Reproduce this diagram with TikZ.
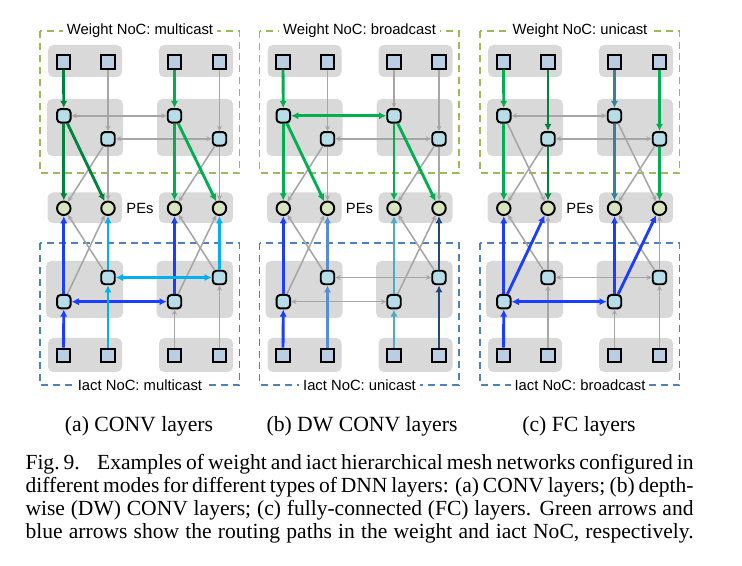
\documentclass[tikz,border=0pt]{standalone}
\usepackage{fontspec}
\setmainfont{Liberation Serif}
\newfontfamily\labelfont{Liberation Sans}
\usetikzlibrary{arrows.meta}

\definecolor{boxgray}{HTML}{D9D9D9}
\definecolor{wiregray}{HTML}{A6A6A6}
\definecolor{glbfill}{HTML}{B9CDE5}
\definecolor{routerfill}{HTML}{B7DEE8}
\definecolor{pefill}{HTML}{D7E4BD}
\definecolor{wnocline}{HTML}{9BBB59}
\definecolor{inocline}{HTML}{4F81BD}
\definecolor{wgreen}{HTML}{00B050}
\definecolor{wdgreen}{HTML}{00843D}
\definecolor{wteal}{HTML}{31849B}
\definecolor{iblue}{HTML}{1A3DFF}
\definecolor{icyan}{HTML}{00B0F0}
\definecolor{icorn}{HTML}{558ED5}
\definecolor{iteal}{HTML}{4BACC6}
\definecolor{inavy}{HTML}{1F497D}

\tikzset{
	glb/.style={draw, line width=0.75pt, fill=glbfill, minimum size=5.1pt, inner sep=0pt},
	router/.style={draw, line width=0.75pt, fill=routerfill, rounded corners=1.4pt, minimum size=5.2pt, inner sep=0pt},
	pe/.style={draw, circle, line width=0.75pt, fill=pefill, minimum size=5.2pt, inner sep=0pt},
	graybox/.style={fill=boxgray, rounded corners=2pt},
	nocbox/.style={draw=#1, line width=0.6pt, dash pattern=on 2.7pt off 1.9pt},
	noclabel/.style={fill=white, inner xsep=1.5pt, inner ysep=0.5pt, font=\labelfont\fontsize{5.7pt}{6pt}\selectfont},
	gwire/.style={draw=wiregray, line width=0.6pt, >={Stealth[length=2.1pt,width=1.9pt]}, ->},
	cwire/.style={draw=#1, line width=1.1pt, >={Latex[length=2.8pt,width=2.8pt]}, ->},
}

\begin{document}
\begin{tikzpicture}[x=0.385pt, y=-0.385pt]
	\useasboundingbox (0,0) rectangle (742,566);
	\foreach \p/\dx/\wmode/\imode in {a/0/multicast/multicast, b/219.5/broadcast/unicast, c/440/unicast/broadcast} {
		\begin{scope}[shift={(\dx,0)}]
			\draw[nocbox=wnocline] (40,31) rectangle (239.5,173);
			\draw[nocbox=inocline] (40,243) rectangle (239.5,385);
			\fill[graybox] (48,45) rectangle (122,77);
			\fill[graybox] (159,45) rectangle (233,77);
			\fill[graybox] (47,99) rectangle (123,156);
			\fill[graybox] (157,99) rectangle (233,156);
			\fill[graybox] (47.5,192.5) rectangle (122,223);
			\fill[graybox] (159,192.5) rectangle (233,223);
			\fill[graybox] (46,261) rectangle (123,318);
			\fill[graybox] (156.5,261) rectangle (233,318);
			\fill[graybox] (48,338) rectangle (122,372);
			\fill[graybox] (159,338) rectangle (233,372);
			\node[noclabel] (\p wtitle) at (140,31) {Weight NoC: \wmode};
			\node[noclabel] (\p ititle) at (140,385) {Iact NoC: \imode};
			\node[noclabel, fill=none] (\p pelabel) at (140,208) {PEs};
			% weight GLB, weight routers, PEs, iact routers, iact GLB
			\node[glb] (\p wg1) at (63.5,62) {};
			\node[glb] (\p wg2) at (108,62) {};
			\node[glb] (\p wg3) at (174.5,62) {};
			\node[glb] (\p wg4) at (219.5,62) {};
			\node[router] (\p wr1) at (63.8,115.8) {};
			\node[router] (\p wr2) at (108,138.8) {};
			\node[router] (\p wr3) at (174.5,115.8) {};
			\node[router] (\p wr4) at (219.5,138.8) {};
			\node[pe] (\p pe1) at (63.8,208.3) {};
			\node[pe] (\p pe2) at (108,208.3) {};
			\node[pe] (\p pe3) at (174.5,208.3) {};
			\node[pe] (\p pe4) at (219.5,208.3) {};
			\node[router] (\p ir1) at (63.8,301.7) {};
			\node[router] (\p ir2) at (108,277.5) {};
			\node[router] (\p ir3) at (174.5,301.7) {};
			\node[router] (\p ir4) at (219.5,277.5) {};
			\node[glb] (\p ig1) at (63.5,355.3) {};
			\node[glb] (\p ig2) at (108,355.3) {};
			\node[glb] (\p ig3) at (174.5,355.3) {};
			\node[glb] (\p ig4) at (219.5,355.3) {};
		\end{scope}
	}

	% (a) weight multicast, iact multicast
	\foreach \s/\t in {wg2/wr2, wg4/wr4, wr2/pe1, wr2/pe2, wr4/pe3, wr4/pe4,
		ig3/ir3, ig4/ir4, ir1/pe2, ir2/pe1, ir3/pe4, ir4/pe3}
		\draw[gwire] (a\s) -- (a\t);
	\draw[gwire, <->] (awr1) -- (awr3);
	\draw[gwire, <->] (awr2) -- (awr4);
	\foreach \s/\t in {wg1/wr1, wr1/pe1, wr1/pe2} \draw[cwire=wdgreen] (a\s) -- (a\t);
	\foreach \s/\t in {wg3/wr3, wr3/pe3, wr3/pe4} \draw[cwire=wgreen] (a\s) -- (a\t);
	\foreach \s/\t in {ig1/ir1, ir1/pe1, ir3/pe3} \draw[cwire=iblue] (a\s) -- (a\t);
	\draw[cwire=iblue, <->] (air1) -- (air3);
	\foreach \s/\t in {ig2/ir2, ir2/pe2, ir4/pe4} \draw[cwire=icyan] (a\s) -- (a\t);
	\draw[cwire=icyan, <->] (air2) -- (air4);

	% (b) weight broadcast, iact unicast
	\foreach \s/\t in {wg2/wr2, wg3/wr3, wg4/wr4, wr2/pe1, wr2/pe2, wr4/pe3, wr4/pe4,
		ir1/pe2, ir2/pe1, ir3/pe4, ir4/pe3}
		\draw[gwire] (b\s) -- (b\t);
	\draw[gwire, <->] (bwr2) -- (bwr4);
	\draw[gwire, <->] (bir1) -- (bir3);
	\draw[gwire, <->] (bir2) -- (bir4);
	\foreach \s/\t in {wg1/wr1, wr1/pe1, wr1/pe2, wr3/pe3, wr3/pe4} \draw[cwire=wgreen] (b\s) -- (b\t);
	\draw[cwire=wgreen, <->] (bwr1) -- (bwr3);
	\foreach \s/\t/\c in {ig1/ir1/iblue, ir1/pe1/iblue, ig2/ir2/icorn, ir2/pe2/icorn,
		ig3/ir3/iteal, ir3/pe3/iteal, ig4/ir4/inavy, ir4/pe4/inavy}
		\draw[cwire=\c] (b\s) -- (b\t);

	% (c) weight unicast, iact broadcast
	\foreach \s/\t in {wr1/pe2, wr2/pe1, wr3/pe4, wr4/pe3,
		ig2/ir2, ig3/ir3, ig4/ir4, ir2/pe1, ir2/pe2, ir4/pe3, ir4/pe4}
		\draw[gwire] (c\s) -- (c\t);
	\draw[gwire, <->] (cwr1) -- (cwr3);
	\draw[gwire, <->] (cwr2) -- (cwr4);
	\draw[gwire, <->] (cir2) -- (cir4);
	\foreach \s/\t/\c in {wg1/wr1/wgreen, wr1/pe1/wgreen, wg2/wr2/wdgreen, wr2/pe2/wdgreen,
		wg3/wr3/wteal, wr3/pe3/wteal, wg4/wr4/wgreen, wr4/pe4/wgreen}
		\draw[cwire=\c] (c\s) -- (c\t);
	\foreach \s/\t in {ig1/ir1, ir1/pe1, ir1/pe2, ir3/pe3, ir3/pe4} \draw[cwire=iblue] (c\s) -- (c\t);
	\draw[cwire=iblue, <->] (cir1) -- (cir3);

	% sub-captions and caption
	\node[anchor=base, font=\fontsize{8.35pt}{9pt}\selectfont] (suba) at (139,432) {(a) CONV layers};
	\node[anchor=base, font=\fontsize{8.35pt}{9pt}\selectfont] (subb) at (362,432) {(b) DW CONV layers};
	\node[anchor=base, font=\fontsize{8.35pt}{9pt}\selectfont] (subc) at (579,432) {(c) FC layers};
	\node[anchor=base west, inner sep=0pt] (caption) at (25,470) {\vtop{%
		\fontsize{8.3pt}{8.78pt}\selectfont
		\hbox to 257.2pt{Fig.~9.\hspace{0.8em}Examples of weight and iact hierarchical mesh networks configured in}
		\hbox to 257.2pt{different modes for different types of DNN layers: (a) CONV layers; (b) depth-}
		\hbox to 257.2pt{wise (DW) CONV layers; (c) fully-connected (FC) layers. Green arrows and}
		\hbox to 257.2pt{blue arrows show the routing paths in the weight and iact NoC, respectively.}}};
\end{tikzpicture}
\end{document}
